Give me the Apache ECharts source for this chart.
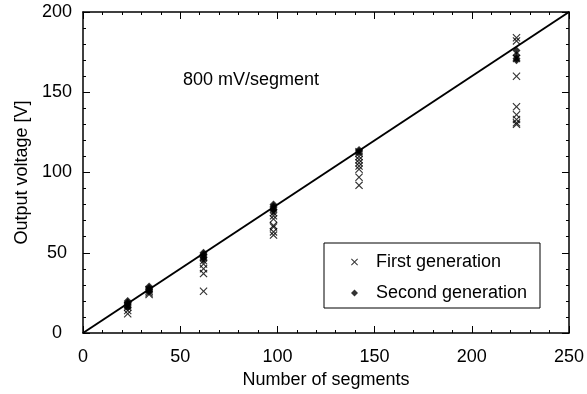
<!DOCTYPE html>
<html>
<head>
<meta charset="utf-8">
<script src="https://cdn.jsdelivr.net/npm/echarts@6/dist/echarts.min.js"></script>
<style>
    html, body { margin: 0; padding: 0; background: #fff; }
    #chart { width: 587px; height: 394px; }
</style>
</head>
<body>
<div id="chart"></div>
<script>
// number of segments of each measured stack
var segments = [23, 34, 62, 98, 142, 223];
// output voltages [V], one list per stack
var firstGen = [
    [12, 14, 16, 17],
    [24, 25, 26, 27],
    [26, 37, 40, 43, 45, 47],
    [61, 63, 66, 67, 71, 73, 75],
    [92, 97, 102, 104, 106, 108, 110, 112, 113],
    [130, 131, 133, 136, 141, 160, 171, 182, 184]
];
var secondGen = [
    [16, 17, 18, 19, 20],
    [26, 27, 28, 29],
    [46, 47, 48, 49, 50],
    [76, 77, 78, 79, 80],
    [113, 114],
    [170, 171, 173, 176]
];
// 800 mV/segment reference line
var fitX = [0, 250];
var fitY = [0, 200];
var xTicks = [0, 50, 100, 150, 200, 250];
var yTicks = [0, 50, 100, 150, 200];

var font = "Liberation Sans";
var fontSize = 18;

function toPairs(groups) {
    var out = [];
    groups.forEach(function(vals, i) {
        vals.forEach(function(v) {
            out.push([segments[i], v]);
        });
    });
    return out;
}

var crossPath = "path://M0,1L1,0L5,4L9,0L10,1L6,5L10,9L9,10L5,6L1,10L0,9L4,5Z";

function axisBase(values, show) {
    return {
        type: "value",
        min: values[0],
        max: values[values.length - 1],
        interval: 50,
        axisLine: { show: true, onZero: false, lineStyle: { color: "#000", width: 1.5 } },
        axisTick: { show: true, inside: true, length: 7, lineStyle: { color: "#000" } },
        minorTick: { show: true, splitNumber: 5, length: 3, lineStyle: { color: "#000" } },
        splitLine: { show: false },
        axisLabel: { show: show, color: "#000", fontFamily: font, fontSize: fontSize }
    };
}

var xMain = axisBase(xTicks, true);
xMain.position = "bottom";
xMain.name = "Number of segments";
xMain.nameLocation = "middle";
xMain.nameGap = 28;
xMain.nameTextStyle = { color: "#000", fontFamily: font, fontSize: fontSize };
xMain.axisLabel.margin = 15;
var xTop = axisBase(xTicks, false);
xTop.position = "top";

var yMain = axisBase(yTicks, true);
yMain.position = "left";
yMain.name = "Output voltage [V]";
yMain.nameLocation = "middle";
yMain.nameGap = 49;
yMain.nameTextStyle = { color: "#000", fontFamily: font, fontSize: fontSize };
yMain.axisLabel.margin = 26;
yMain.axisLabel.align = "center";
var yRight = axisBase(yTicks, false);
yRight.position = "right";

var chart = echarts.init(document.getElementById("chart"));
chart.setOption({
    animation: false,
    backgroundColor: "#fff",
    grid: { left: 83, right: 9, top: 12, bottom: 61 },
    xAxis: [xMain, xTop],
    yAxis: [yMain, yRight],
    legend: {
        orient: "vertical",
        left: 351,
        top: 252,
        padding: 0,
        itemGap: 11,
        itemWidth: 7,
        itemHeight: 7,
        data: ["First generation", "Second generation"],
        textStyle: { color: "#000", fontFamily: font, fontSize: fontSize, lineHeight: 20, padding: [0, 0, 0, 13] }
    },
    graphic: [
        {
            type: "rect",
            z: 3,
            shape: { x: 324, y: 243, width: 216, height: 65 },
            style: { fill: "#fff", stroke: "#000", lineWidth: 1 }
        },
        {
            type: "text",
            z: 3,
            x: 183,
            y: 80,
            style: { text: "800 mV/segment", fill: "#000", font: fontSize + "px " + font, verticalAlign: "middle" }
        }
    ],
    series: [
        {
            name: "fit",
            type: "line",
            data: fitX.map(function(x, i) { return [x, fitY[i]]; }),
            symbol: "none",
            lineStyle: { color: "#000", width: 2 },
            z: 1
        },
        {
            name: "First generation",
            type: "scatter",
            data: toPairs(firstGen),
            symbol: crossPath,
            symbolSize: 8,
            itemStyle: { color: "#000" },
            z: 2
        },
        {
            name: "Second generation",
            type: "scatter",
            data: toPairs(secondGen),
            symbol: "diamond",
            symbolSize: 8,
            itemStyle: { color: "#000" },
            z: 2
        }
    ]
});
</script>
</body>
</html>
